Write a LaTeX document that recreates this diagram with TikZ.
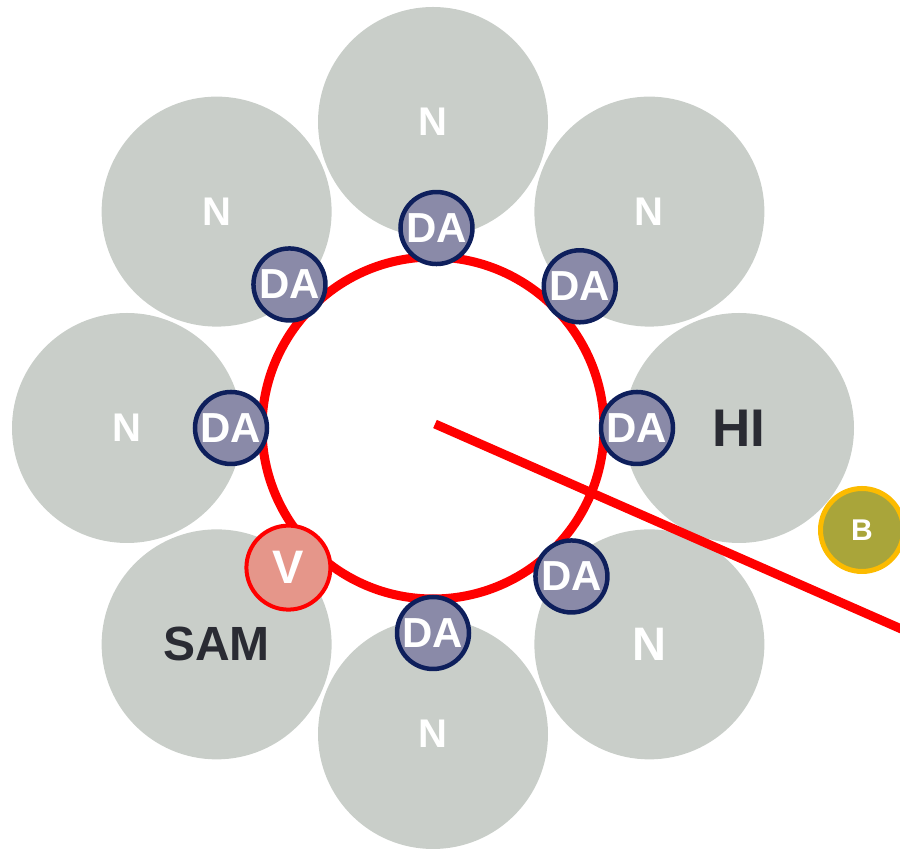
\documentclass[tikz,border=0pt]{standalone}
\usepackage{fontspec}
\setmainfont{Liberation Sans}
\usetikzlibrary{calc}

\definecolor{petalgray}{HTML}{C9CEC9}
\definecolor{dafill}{HTML}{8A8AA8}
\definecolor{danavy}{HTML}{0E1F5C}
\definecolor{vfill}{HTML}{E5968A}
\definecolor{bfill}{HTML}{A9A53A}
\definecolor{bgold}{HTML}{FCBB00}
\definecolor{inkdark}{HTML}{2A2B33}
\definecolor{ringred}{HTML}{FF0000}

\tikzset{
    petal/.style={circle,fill=petalgray,minimum size=230pt,inner sep=0pt,
        text=white,font=\bfseries\fontsize{40}{40}\selectfont},
    dasite/.style={circle,fill=dafill,draw=danavy,line width=4.5pt,
        minimum size=72pt,inner sep=0pt,text=white,
        font=\bfseries\fontsize{42}{42}\selectfont},
}

\begin{document}
\begin{tikzpicture}[x=1pt,y=1pt]

    \useasboundingbox (0,0) rectangle (900,850);
    \clip (0,0) rectangle (900,850);

    % Hub of the ring
    \coordinate (hub) at (433,422);

    % Outer petals
    \foreach \a/\name in {90/ntop, 45/nne, -90/nbot, 180/nleft, 135/nnw}
        \node[petal] (\name) at ($(hub)+(\a:306)$) {N};
    \node[petal,font=\bfseries\fontsize{47}{47}\selectfont] (nse) at ($(hub)+(-45:306)$) {N};
    \node[petal,text=inkdark,font=\bfseries\fontsize{53}{53}\selectfont] (hi) at ($(hub)+(0:306)$) {HI};
    \node[petal,text=inkdark,font=\bfseries\fontsize{48}{48}\selectfont] (sam) at ($(hub)+(-135:306)$) {SAM};

    % Ring
    \draw[ringred,line width=9pt] (hub) circle (171);

    % Red arm
    \coordinate (armstart) at (435,426);
    \coordinate (armend) at (915,215);
    \draw[ringred,line width=9pt] (armstart) -- (armend);

    % DA sites around the ring
    \foreach \a/\r/\name in {89/200/da1, 44/204/da2, 0/204/da3, -47/203/da4,
                             -90/205/da5, 180/202/da6, 135/203/da7}
        \node[dasite] (\name) at ($(hub)+(\a:\r)$) {DA};

    % V site
    \node[circle,fill=vfill,draw=ringred,line width=4pt,minimum size=84pt,
          inner sep=0pt,text=white,font=\bfseries\fontsize{47}{47}\selectfont]
        (v) at ($(hub)+(224:201)$) {V};

    % B marker
    \node[circle,fill=bfill,draw=bgold,line width=5pt,minimum size=83pt,
          inner sep=0pt,text=white,font=\bfseries\fontsize{30}{30}\selectfont]
        (b) at (862,320) {B};

\end{tikzpicture}
\end{document}
